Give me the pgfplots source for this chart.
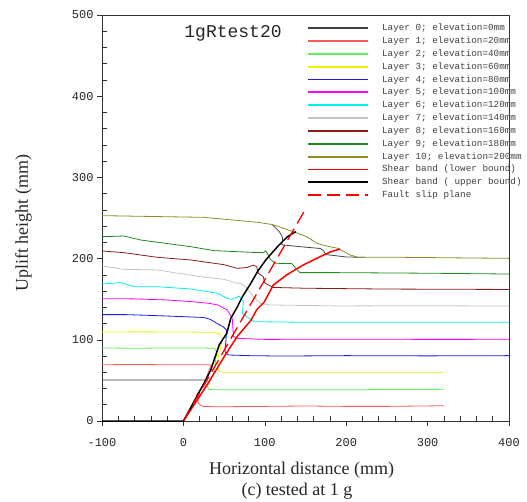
\documentclass[border=0pt]{standalone}
\usepackage{fontspec}
\setmainfont{Liberation Serif}
\newfontfamily\monofont{Liberation Mono}
\usepackage{pgfplots}
\pgfplotsset{compat=1.18}
\definecolor{lz}{HTML}{404040}
\definecolor{la}{HTML}{FF5A5A}
\definecolor{lb}{HTML}{5CF05C}
\definecolor{lc}{HTML}{F0F000}
\definecolor{ld}{HTML}{1A1AF0}
\definecolor{le}{HTML}{FF00FF}
\definecolor{lf}{HTML}{00F0F0}
\definecolor{lg}{HTML}{C4C4C4}
\definecolor{lh}{HTML}{8B1A1A}
\definecolor{li}{HTML}{1E8C1E}
\definecolor{lj}{HTML}{8C8C28}
\begin{document}
\begin{tikzpicture}
\useasboundingbox (-102pt,-80pt) rectangle (425pt,421pt);
\begin{axis}[
  at={(0pt,0pt)}, anchor=south west,
  width=407pt, height=406pt, scale only axis,
  xmin=-100, xmax=400, ymin=0, ymax=500,
  xtick={-100,0,...,400}, ytick={0,100,...,500},
  minor x tick num=4, minor y tick num=4,
  xtick pos=bottom, ytick pos=left,
  tick align=outside, major tick length=5pt, minor tick length=-5pt,
  axis line style={black!80, line width=0.6pt},
  tick style={black!80, line width=0.6pt},
  /pgf/number format/assume math mode=true,
  /pgf/number format/1000 sep={},
  ticklabel style={font=\monofont\fontsize{12}{12}\selectfont, text=black!85},
  xticklabel style={yshift=-9pt},
  unbounded coords=jump,
  clip=false,
  legend style={at={(rel axis cs:0.504,0.978)}, anchor=north west, draw=none, fill=none,
    font=\monofont\fontsize{9.3}{9.3}\selectfont,
    row sep=4.85pt, column sep=13pt, inner sep=0pt,
    nodes={inner sep=0pt, text height=6.5pt, text depth=1.5pt}},
  legend cell align=left,
  legend image code/.code={\draw[#1] (0pt,0pt) -- (60pt,0pt);},
  legend image post style={line width=1.8pt},
  every axis plot/.append style={line width=0.8pt},
]
\addplot[lz] coordinates {(-100,50.5) (27,50.5) (nan,nan) (109,242) (118,233) (122,226) (121,217) (143,214.7) (168,212.5) (172,210) (175,205) (200,202) (223,201.6)};
\addlegendentry{\textcolor{black!75}{Layer 0; elevation=0mm}}
\addplot[la] coordinates {(-100,69.3) (-60,69.6) (-20,69.3) (34,69.3) (25,45) (16,32) (19,21) (24,18) (40,17.5) (100,18) (150,18.5) (200,18) (250,18) (320,18.8)};
\addlegendentry{\textcolor{black!75}{Layer 1; elevation=20mm}}
\addplot[lb] coordinates {(-100,90) (-60,89.5) (-20,90) (20,90) (38,89.5) (41,85.4) (38.5,67) (37,58.7) (29.5,42.3) (31.6,38.8) (40,38.5) (100,38.5) (200,38.5) (320,39)};
\addlegendentry{\textcolor{black!75}{Layer 2; elevation=40mm}}
\addplot[lc] coordinates {(-100,109.6) (-50,109.8) (0,109.6) (38,109.2) (45,107) (48,101) (46,92) (43,80) (42,66) (44,61) (50,60) (100,60) (200,60) (320,60)};
\addlegendentry{\textcolor{black!75}{Layer 3; elevation=60mm}}
\addplot[ld] coordinates {(-100,131) (-70,131) (-40,130) (0,128.5) (25,127.5) (33,125.2) (41,120.3) (49,116) (53,112) (52.3,100) (51,85.5) (55,81.3) (80,80.5) (120,80) (200,80.5) (300,80.2) (400,80.5)};
\addlegendentry{\textcolor{black!75}{Layer 4; elevation=80mm}}
\addplot[le] coordinates {(-100,150.6) (-60,150.4) (-20,149) (10,147) (31.6,144.9) (42,143) (54,136.7) (60,126.4) (61.5,104) (66.4,101.8) (100,100.5) (200,100.8) (300,100.5) (400,100.6)};
\addlegendentry{\textcolor{black!75}{Layer 5; elevation=100mm}}
\addplot[lf] coordinates {(-100,168.7) (-77,170.4) (-60.7,165.4) (-32,165.4) (9,162.6) (41.8,157.2) (54,151) (60,149.8) (68.4,153.9) (73.8,147) (72.5,132.6) (78.7,127.7) (86.9,122.3) (156.6,121.5) (250,121.5) (400,121.5)};
\addlegendentry{\textcolor{black!75}{Layer 6; elevation=120mm}}
\addplot[lg] coordinates {(-100,191) (-73,186.8) (-32,186) (21,177.7) (50,174.5) (66,169.5) (70,169.6) (76,165.5) (86,153.2) (94,145) (106,142.9) (192,141.7) (300,142) (400,141.5)};
\addlegendentry{\textcolor{black!75}{Layer 7; elevation=140mm}}
\addplot[lh] coordinates {(-100,209.4) (-73,207.3) (-32,201.6) (9,198.3) (50,192.5) (66,188) (78,189) (86,192) (90,190) (92,182) (98,178) (100,170) (110,164.5) (150,163.5) (250,162.5) (400,162)};
\addlegendentry{\textcolor{black!75}{Layer 8; elevation=160mm}}
\addplot[li] coordinates {(-100,227) (-73,227.8) (-52.5,222.9) (9,214.7) (37.7,209.8) (94,207.3) (99,207.7) (101,209.5) (104,205) (107,199) (113,194.2) (133,194) (139,187) (143.3,182.7) (192,182.7) (300,182) (400,181)};
\addlegendentry{\textcolor{black!75}{Layer 9; elevation=180mm}}
\addplot[lj] coordinates {(-100,252.9) (25,250.8) (91,244.7) (109,242) (135,233.2) (151.5,227) (164,218.8) (176,215.5) (190,212.6) (205,204.4) (215,201.6) (266,201.6) (400,200.3)};
\addlegendentry{\textcolor{black!75}{Layer 10; elevation=200mm}}
\addplot[red, line width=1.5pt] coordinates {(0,0) (17,26) (30,46) (50,79) (66,104) (83,124) (90,137) (99,146) (110.5,167.5) (127,180) (147,192) (168,202.4) (180,208) (192.4,211.8)};
\addlegendentry{\textcolor{black!75}{Shear band (lower bound)}}
\addplot[black, line width=1.5pt] coordinates {(-100,0) (0,0) (27.5,50.5) (33.6,62.8) (39.8,81.3) (43.9,93.6) (53.3,108) (58.2,126.4) (66.4,140.8) (72.5,153.1) (82.8,169.5) (91,183.9) (101.2,198.3) (115.6,214.7) (127.9,227) (138,233.2)};
\addlegendentry{\textcolor{black!75}{Shear band ( upper bound)}}
\addplot[red, line width=1.3pt, dash pattern=on 13pt off 6pt] coordinates {(0,0) (150,261)};
\addlegendentry{\textcolor{black!75}{Fault slip plane}}
\node[font=\monofont\fontsize{18}{18}\selectfont, text=black!85] at (axis cs:61,478) {1gRtest20};
\end{axis}
\node[anchor=base, font=\fontsize{18}{18}\selectfont, text=black!85] at (199.7pt,-53pt) {Horizontal distance (mm)};
\node[anchor=base, rotate=90, font=\fontsize{18}{18}\selectfont, text=black!85] at (-74pt,198pt) {Uplift height (mm)};
\node[anchor=base, font=\fontsize{18}{18}\selectfont, text=black!85] at (195pt,-74pt) {(c) tested at 1 g};
\end{tikzpicture}
\end{document}
